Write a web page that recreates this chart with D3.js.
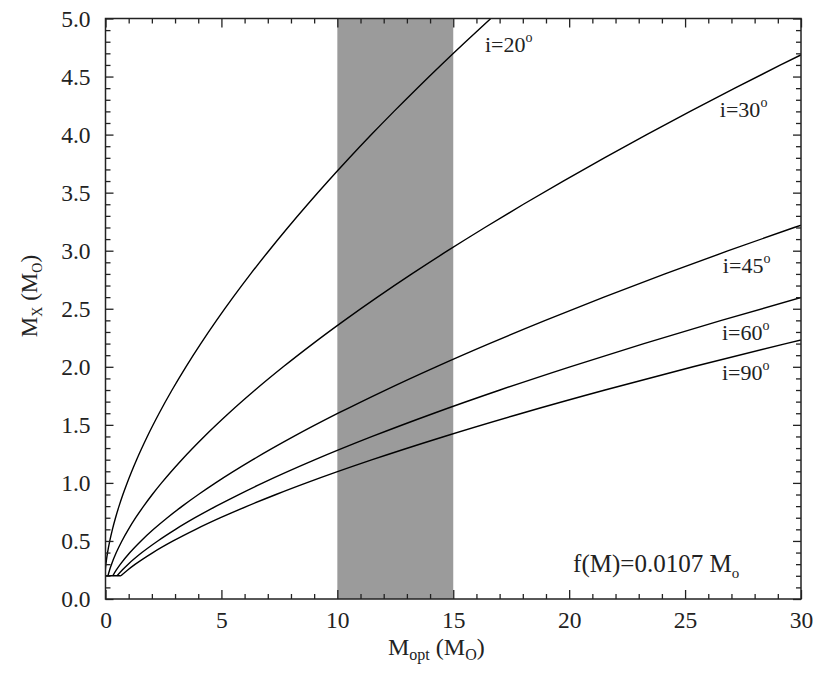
<!DOCTYPE html>
<html>
<head>
<meta charset="utf-8">
<script src="https://cdn.jsdelivr.net/npm/d3@7"></script>
<style>
  html, body { margin: 0; padding: 0; background: #fff; }
</style>
</head>
<body>
<svg id="chart" width="816" height="673"></svg>
<script>
// ---- data ----
const mxValues = [0.2,0.25,0.3,0.4,0.5,0.6,0.7,0.8,0.9,1.0,1.2,1.4,1.6,1.8,2.0,2.2,2.4,2.6,2.8,3.0,3.2,3.4,3.6,3.8,4.0,4.2,4.4,4.6,4.8,5.0,5.2];
const moptI20 = [-0.027,-0.008,0.018,0.089,0.184,0.299,0.433,0.584,0.751,0.934,1.342,1.803,2.314,2.870,3.469,4.110,4.790,5.507,6.260,7.048,7.869,8.723,9.608,10.524,11.469,12.444,13.447,14.477,15.535,16.619,17.729];
const moptI30 = [0.106,0.177,0.262,0.465,0.708,0.989,1.302,1.646,2.018,2.418,3.293,4.262,5.317,6.454,7.667,8.953,10.308,11.729,13.214,14.760,16.365,18.028,19.746,21.518,23.343,25.219,27.146,29.121,31.144];
const moptI45 = [0.314,0.469,0.645,1.054,1.532,2.072,2.667,3.313,4.008,4.748,6.356,8.122,10.034,12.082,14.259,16.557,18.973,21.499,24.133,26.869,29.705,32.638];
const moptI60 = [0.497,0.724,0.980,1.571,2.255,3.021,3.863,4.775,5.752,6.791,9.042,11.506,14.168,17.015,20.037,23.224,26.568,30.064];
const moptI90 = [0.665,0.958,1.289,2.046,2.918,3.893,4.962,6.117,7.354,8.667,11.508,14.614,17.965,21.547,25.344,29.346,33.544];
const floorMopt = [0, 0.665];
const floorMx = [0.2, 0.2];
const seriesNames = ["20", "30", "45", "60", "90"];
const seriesMopt = [moptI20, moptI30, moptI45, moptI60, moptI90];
const labelMopt = [16.37, 26.5, 26.63, 26.59, 26.59];
const labelMx = [4.71, 4.15, 2.81, 2.23, 1.886];
const bandRange = [10, 15];
const xMajor = [0, 5, 10, 15, 20, 25, 30];
const xMinor = d3.range(0, 31, 1).filter(v => v % 5 !== 0);
const yMajor = [0.0, 0.5, 1.0, 1.5, 2.0, 2.5, 3.0, 3.5, 4.0, 4.5, 5.0];
const yMinor = d3.range(0, 51, 1).filter(v => v % 5 !== 0).map(v => v / 10);
const noteText = "f(M)=0.0107 M";
const noteSub = "o";
const notePos = [20.17, 0.233];

// ---- layout ----
const FONT = "Liberation Serif, Times New Roman, Times, DejaVu Serif, serif";
const svg = d3.select("#chart").attr("font-family", FONT);
const L = 105.5, R = 801, T = 18.5, B = 599;
const x = d3.scaleLinear().domain([0, 30]).range([L, R]);
const y = d3.scaleLinear().domain([0, 5]).range([B, T]);

svg.append("rect").attr("width", 816).attr("height", 673).attr("fill", "#fff");

svg.append("defs").append("clipPath").attr("id", "plotclip")
  .append("rect").attr("x", L).attr("y", T).attr("width", R - L).attr("height", B - T);

// grey band
svg.append("rect")
  .attr("x", x(bandRange[0])).attr("y", T)
  .attr("width", x(bandRange[1]) - x(bandRange[0]))
  .attr("height", B - T)
  .attr("fill", "#9b9b9b");

// curves
const line = d3.line()
  .x(d => x(d[0])).y(d => y(d[1]))
  .curve(d3.curveMonotoneX);

const plot = svg.append("g").attr("clip-path", "url(#plotclip)");
seriesMopt.forEach((arr) => {
  const pts = arr.map((m, i) => [m, mxValues[i]]);
  plot.append("path").datum(pts)
    .attr("d", line)
    .attr("fill", "none").attr("stroke", "#000").attr("stroke-width", 1.4);
});
plot.append("path").datum(floorMopt.map((m, i) => [m, floorMx[i]]))
  .attr("d", d3.line().x(d => x(d[0])).y(d => y(d[1])))
  .attr("fill", "none").attr("stroke", "#000").attr("stroke-width", 1.4);

// axes
function styleAxis(g) {
  g.attr("font-family", FONT).attr("font-size", 23.5);
  g.select(".domain").remove();
  g.selectAll(".tick line").attr("stroke", "#222").attr("stroke-width", 1.3);
  g.selectAll(".tick text").attr("fill", "#222");
}
const fmt1 = d3.format(".1f");
svg.append("g").attr("transform", `translate(0,${B})`)
  .call(d3.axisBottom(x).tickValues(xMajor).tickSize(-9).tickPadding(12).tickFormat(d3.format("d")))
  .call(styleAxis);
svg.append("g").attr("transform", `translate(0,${B})`)
  .call(d3.axisBottom(x).tickValues(xMinor).tickSize(-5).tickFormat(""))
  .call(styleAxis);
svg.append("g").attr("transform", `translate(0,${T})`)
  .call(d3.axisTop(x).tickValues(xMajor).tickSize(-9).tickFormat(""))
  .call(styleAxis);
svg.append("g").attr("transform", `translate(0,${T})`)
  .call(d3.axisTop(x).tickValues(xMinor).tickSize(-5).tickFormat(""))
  .call(styleAxis);
svg.append("g").attr("transform", `translate(${L},0)`)
  .call(d3.axisLeft(y).tickValues(yMajor).tickSize(-8).tickPadding(15).tickFormat(fmt1))
  .call(styleAxis);
svg.append("g").attr("transform", `translate(${L},0)`)
  .call(d3.axisLeft(y).tickValues(yMinor).tickSize(-5).tickFormat(""))
  .call(styleAxis);
svg.append("g").attr("transform", `translate(${R},0)`)
  .call(d3.axisRight(y).tickValues(yMajor).tickSize(-8).tickFormat(""))
  .call(styleAxis);
svg.append("g").attr("transform", `translate(${R},0)`)
  .call(d3.axisRight(y).tickValues(yMinor).tickSize(-5).tickFormat(""))
  .call(styleAxis);

// frame
svg.append("rect").attr("x", L).attr("y", T).attr("width", R - L).attr("height", B - T)
  .attr("fill", "none").attr("stroke", "#222").attr("stroke-width", 1.5);

// curve labels
seriesNames.forEach((n, i) => {
  const t = svg.append("text")
    .attr("x", x(labelMopt[i])).attr("y", y(labelMx[i]))
    .attr("font-size", 22).attr("fill", "#222");
  t.append("tspan").text("i=" + n);
  t.append("tspan").attr("font-size", 14).attr("dy", -10).text("o");
});

// note
const note = svg.append("text")
  .attr("x", x(notePos[0])).attr("y", y(notePos[1]))
  .attr("font-size", 25).attr("fill", "#222");
note.append("tspan").text(noteText);
note.append("tspan").attr("font-size", 15).attr("dy", 6).text(noteSub);

// x title
const xt = svg.append("text").attr("x", 388).attr("y", 655).attr("font-size", 24).attr("fill", "#222");
xt.append("tspan").text("M");
xt.append("tspan").attr("font-size", 16).attr("dy", 5).text("opt");
xt.append("tspan").attr("dy", -5).text(" (M");
xt.append("tspan").attr("font-size", 16).attr("dy", 5).text("O");
xt.append("tspan").attr("dy", -5).text(")");

// y title
const yt = svg.append("text")
  .attr("transform", "translate(37,296) rotate(-90)")
  .attr("text-anchor", "middle").attr("font-size", 23).attr("fill", "#222");
yt.append("tspan").text("M");
yt.append("tspan").attr("font-size", 14).attr("dy", 5).text("X");
yt.append("tspan").attr("dy", -5).text(" (M");
yt.append("tspan").attr("font-size", 14).attr("dy", 5).text("O");
yt.append("tspan").attr("dy", -5).text(")");
</script>
</body>
</html>
